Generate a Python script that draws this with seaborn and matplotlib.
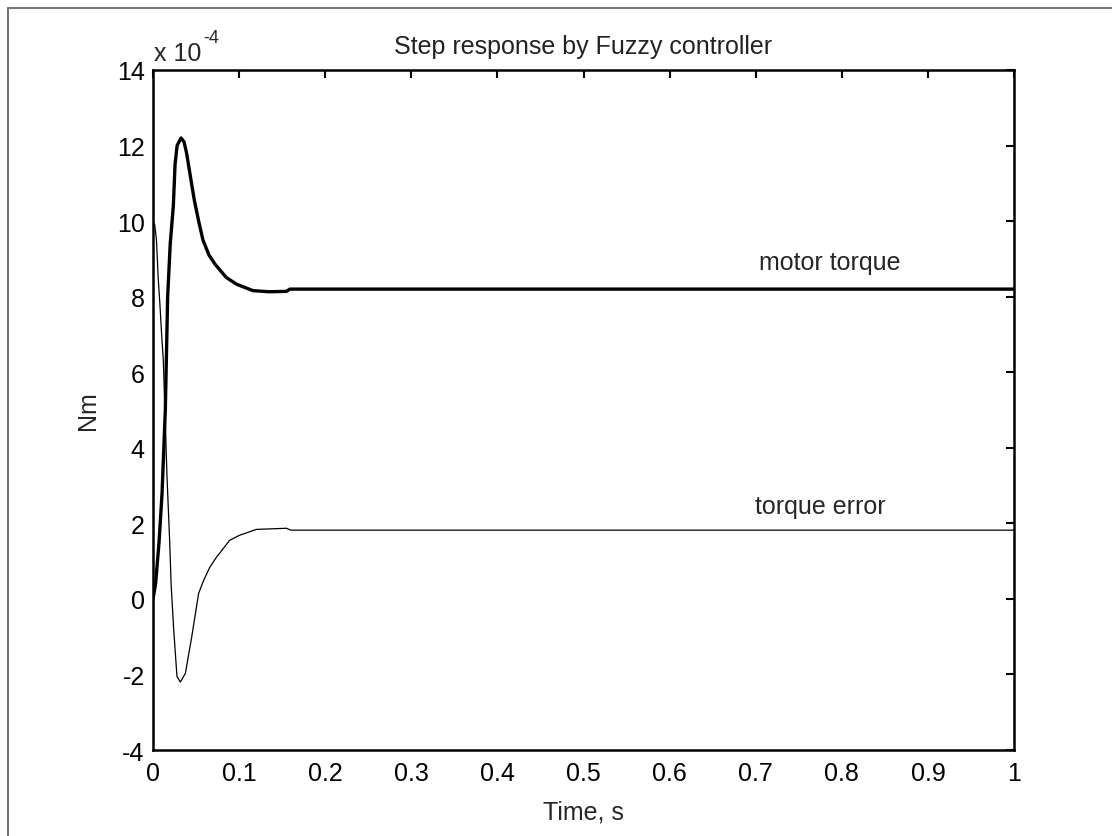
import matplotlib
matplotlib.use("Agg")
import matplotlib.pyplot as plt
import matplotlib.lines as mlines
import pandas as pd
import seaborn as sns

# values in units of 1e-4 Nm
TORQUE_T = [0, 0.003, 0.007, 0.0105, 0.0143, 0.017, 0.020, 0.0236, 0.0256, 0.028,
            0.0326, 0.036, 0.039, 0.044, 0.048, 0.053, 0.058, 0.065, 0.072, 0.085,
            0.097, 0.116, 0.135, 0.155, 0.159, 0.2, 1.0]
TORQUE_Y = [0, 0.4, 1.5, 2.8, 5.0, 8.0, 9.4, 10.4, 11.5, 12.0,
            12.2, 12.1, 11.8, 11.1, 10.55, 10.0, 9.5, 9.1, 8.86, 8.51,
            8.33, 8.16, 8.13, 8.14, 8.2, 8.2, 8.2]

ERROR_T = [0, 0.002, 0.004, 0.006, 0.008, 0.010, 0.012, 0.0145, 0.0163, 0.0194,
           0.021, 0.024, 0.0278, 0.0318, 0.0376, 0.045, 0.053, 0.059, 0.066, 0.0736,
           0.089, 0.1, 0.12, 0.155, 0.16, 0.2, 1.0]
ERROR_Y = [10.0, 9.9, 9.5, 8.5, 7.8, 7.0, 6.3, 4.5, 3.2, 1.5,
           0.4, -0.8, -2.05, -2.2, -1.97, -1.0, 0.15, 0.5, 0.84, 1.1,
           1.55, 1.68, 1.84, 1.87, 1.82, 1.82, 1.82]

X_TICKS = [0, 0.1, 0.2, 0.3, 0.4, 0.5, 0.6, 0.7, 0.8, 0.9, 1]
X_LABELS = ["0", "0.1", "0.2", "0.3", "0.4", "0.5", "0.6", "0.7", "0.8", "0.9", "1"]
Y_TICKS = [-4, -2, 0, 2, 4, 6, 8, 10, 12, 14]


def main() -> None:
    sns.set_theme(style="white")
    plt.rcParams["font.family"] = ["Liberation Sans", "DejaVu Sans"]
    plt.rcParams["axes.unicode_minus"] = False
    fs = 18

    fig = plt.figure(figsize=(11.12, 8.37), dpi=100)
    ax = fig.add_axes([0.1376, 0.1027, 0.9119 - 0.1376, 0.9152 - 0.1027])

    torque = pd.DataFrame({"t": TORQUE_T, "y": TORQUE_Y})
    error = pd.DataFrame({"t": ERROR_T, "y": ERROR_Y})
    sns.lineplot(data=error, x="t", y="y", color="black", lw=0.9, estimator=None, sort=False, ax=ax)
    sns.lineplot(data=torque, x="t", y="y", color="black", lw=2.4, estimator=None, sort=False, ax=ax)

    ax.set_xlim(0, 1)
    ax.set_ylim(-4, 14)
    ax.set_xticks(X_TICKS)
    ax.set_xticklabels(X_LABELS)
    ax.set_yticks(Y_TICKS)
    ax.set_yticklabels([str(v) for v in Y_TICKS])
    ax.tick_params(direction="in", length=6, width=1.5, top=True, right=True,
                   labelsize=fs, colors="black")
    ax.tick_params(axis="x", pad=8)
    ax.tick_params(axis="y", pad=6)
    for s in ax.spines.values():
        s.set_color("black")
        s.set_linewidth(1.8)

    ax.set_title("Step response by Fuzzy controller", fontsize=fs, pad=12, color="#222")
    ax.set_xlabel("Time, s", fontsize=fs, labelpad=10)
    ax.set_ylabel("Nm", fontsize=fs, labelpad=12)
    ax.text(0.001, 1.008, "x 10", transform=ax.transAxes, fontsize=fs,
            ha="left", va="bottom")
    ax.text(0.058, 1.035, "-4", transform=ax.transAxes, fontsize=fs - 5,
            ha="left", va="bottom")

    ax.text(0.786, 8.93, "motor torque", fontsize=fs, ha="center", va="center")
    ax.text(0.775, 2.46, "torque error", fontsize=fs, ha="center", va="center")

    # scanned page frame (top and left edges)
    fig.add_artist(mlines.Line2D([8 / 1112, 1.0], [1 - 9 / 837, 1 - 9 / 837], color="#777", lw=1.5))
    fig.add_artist(mlines.Line2D([8 / 1112, 8 / 1112], [0.0, 1 - 9 / 837], color="#777", lw=1.5))

    fig.savefig("out.png", dpi=100)
    plt.close(fig)


if __name__ == "__main__":
    main()
